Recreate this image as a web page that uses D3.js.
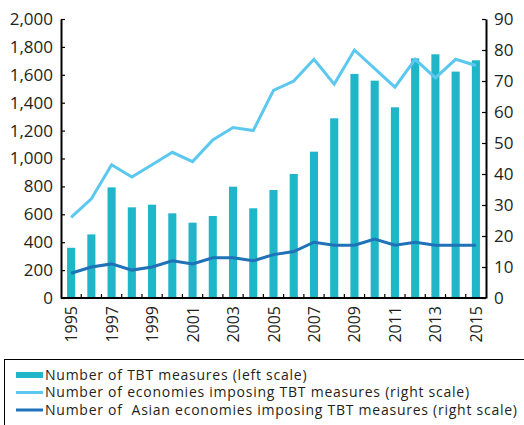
<!DOCTYPE html>
<html>
<head>
<meta charset="utf-8">
<script src="https://cdn.jsdelivr.net/npm/d3@7.9.0/dist/d3.min.js"></script>
<style>
  body { margin: 0; background: #fff; }
  svg { display: block; font-family: "Open Sans", "Noto Sans", sans-serif; }
</style>
</head>
<body>
<svg id="chart" width="524" height="425"></svg>
<script>
const years = d3.range(1995, 2016).map(String);
const tbtMeasures = [360, 456, 793, 650, 669, 607, 540, 588, 798, 643, 774, 889, 1049, 1288, 1606, 1558, 1367, 1718, 1747, 1623, 1704];
const economies = [26, 32, 43, 39, 43, 47, 44, 51, 55, 54, 67, 70, 77, 69, 80, 74, 68, 77, 71, 77, 75];
const asianEconomies = [8, 10, 11, 9, 10, 12, 11, 13, 13, 12, 14, 15, 18, 17, 17, 19, 17, 18, 17, 17, 17];
const leftTicks = d3.range(0, 2001, 200);
const rightTicks = d3.range(0, 91, 10);
const legendLabels = [
  'Number of TBT measures (left scale)',
  'Number of economies imposing TBT measures (right scale)',
  'Number of  Asian economies imposing TBT measures (right scale)'
];

const barColor = '#1fb6c9';
const lightLine = '#5cc8ef';
const darkLine = '#1f72b8';

const svg = d3.select('#chart');
const plotLeft = 61, plotRight = 486, plotTop = 19, plotBottom = 298;

const x = d3.scaleBand().domain(years).range([plotLeft, plotRight]).paddingInner(0.6).paddingOuter(0.3);
const yL = d3.scaleLinear().domain([0, 2000]).range([plotBottom, plotTop]);
const yR = d3.scaleLinear().domain([0, 90]).range([plotBottom, plotTop]);

// bars
svg.append('g').selectAll('rect')
  .data(tbtMeasures)
  .join('rect')
  .attr('x', (d, i) => x(years[i]))
  .attr('width', x.bandwidth())
  .attr('y', d => yL(d))
  .attr('height', d => yL(0) - yL(d))
  .attr('fill', barColor);

const cx = i => x(years[i]) + x.bandwidth() / 2;

function drawLine(values, color) {
  svg.append('path')
    .datum(values)
    .attr('fill', 'none')
    .attr('stroke', color)
    .attr('stroke-width', 3)
    .attr('stroke-linejoin', 'miter')
    .attr('d', d3.line().x((d, i) => cx(i)).y(d => yR(d)));
}
drawLine(economies, lightLine);
drawLine(asianEconomies, darkLine);

// axes
const fmt = d3.format(',');
const gL = svg.append('g').attr('transform', `translate(${plotLeft},0)`)
  .call(d3.axisLeft(yL).tickValues(leftTicks).tickFormat(fmt).tickSizeInner(-4).tickSizeOuter(0).tickPadding(8));
const gR = svg.append('g').attr('transform', `translate(${plotRight},0)`)
  .call(d3.axisRight(yR).tickValues(rightTicks).tickSizeInner(-4).tickSizeOuter(0).tickPadding(8));

// bottom axis with ticks between bands
const step = x.step();
const boundaries = d3.range(1, years.length).map(i => x(years[i]) - step * x.paddingInner() / 2);
const gB = svg.append('g').attr('transform', `translate(0,${plotBottom})`);
gB.selectAll('line.tick')
  .data(boundaries)
  .join('line')
  .attr('x1', d => d).attr('x2', d => d)
  .attr('y1', 0).attr('y2', -4)
  .attr('stroke', '#000').attr('stroke-width', 1.2);
gB.append('line')
  .attr('x1', plotLeft).attr('x2', plotRight)
  .attr('stroke', '#000').attr('stroke-width', 2);
gB.selectAll('text')
  .data(years.filter((d, i) => i % 2 === 0))
  .join('text')
  .attr('transform', d => `translate(${x(d) + x.bandwidth() / 2 + 6},8) rotate(-90)`)
  .attr('text-anchor', 'end')
  .attr('font-size', 16)
  .attr('fill', '#231f20')
  .text(d => d);

[gL, gR].forEach(g => {
  g.select('.domain').attr('stroke-width', 2).attr('stroke', '#000');
  g.selectAll('.tick line').attr('stroke-width', 1.2);
  g.selectAll('.tick text').attr('font-size', 17).attr('fill', '#231f20').attr('font-family', '"Open Sans", sans-serif');
});

// legend
const lg = svg.append('g');
lg.append('rect')
  .attr('x', 4.5).attr('y', 359.5).attr('width', 540).attr('height', 70)
  .attr('fill', 'none').attr('stroke', '#000').attr('stroke-width', 1);
const rowY = [375, 392.5, 410];
legendLabels.forEach((label, i) => {
  if (i === 0) {
    lg.append('rect').attr('x', 16).attr('y', rowY[i] - 3).attr('width', 27).attr('height', 6).attr('fill', barColor);
  } else {
    lg.append('line').attr('x1', 16).attr('x2', 43).attr('y1', rowY[i]).attr('y2', rowY[i])
      .attr('stroke', i === 1 ? lightLine : darkLine).attr('stroke-width', 3);
  }
  lg.append('text')
    .attr('x', 45).attr('y', rowY[i])
    .attr('dy', '0.35em')
    .attr('font-size', 14)
    .attr('letter-spacing', 0.75)
    .style('white-space', 'pre')
    .attr('fill', '#231f20')
    .text(label);
});
</script>
</body>
</html>
